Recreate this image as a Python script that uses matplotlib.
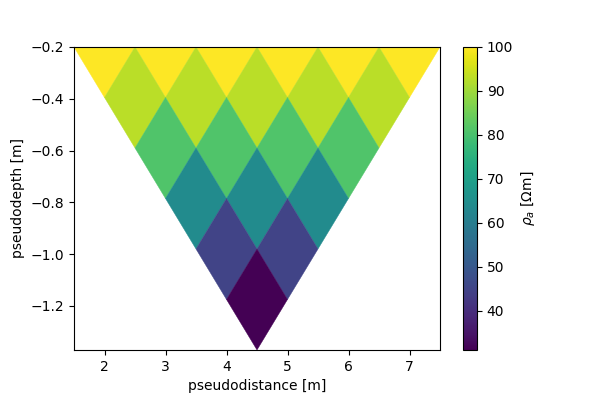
import numpy as np
import matplotlib
matplotlib.use("Agg")
import matplotlib.pyplot as plt
from matplotlib.collections import PolyCollection

# data: pseudodistance, pseudodepth, apparent resistivity per level
level_depths = [-0.2, -0.395, -0.59, -0.785, -0.98, -1.175]
level_x = [
    [2, 3, 4, 5, 6, 7],
    [2.5, 3.5, 4.5, 5.5, 6.5],
    [3, 4, 5, 6],
    [3.5, 4.5, 5.5],
    [4, 5],
    [4.5],
]
level_rho = [
    [100, 100, 100, 100, 100, 100],
    [93, 93, 93, 93, 93],
    [81, 81, 81, 81],
    [64, 64, 64],
    [45, 45],
    [31.1],
]

dx = 0.5
dz = 0.195

verts = []
vals = []
for z, xs, rs in zip(level_depths, level_x, level_rho):
    for x, r in zip(xs, rs):
        verts.append([(x - dx, z), (x, z + dz), (x + dx, z), (x, z - dz)])
        vals.append(r)

fig = plt.figure(figsize=(5.9, 3.93), dpi=100)
ax = fig.add_axes([74/590, 43/393, 366/590, 303/393])
cax = fig.add_axes([463/590, 43/393, 14/590, 303/393])

pc = PolyCollection(verts, array=np.array(vals), cmap="viridis",
                    edgecolors="face", linewidths=0.3)
pc.set_clim(min(vals), max(vals))
ax.add_collection(pc)
ax.set_xlim(1.5, 7.5)
ax.set_ylim(level_depths[-1] - dz, level_depths[0])
ax.set_xlabel("pseudodistance [m]")
ax.set_ylabel("pseudodepth [m]")

cb = fig.colorbar(pc, cax=cax)
cb.set_label(r"$\rho_a$ [$\Omega$m]")

fig.savefig("out.png", dpi=100)
